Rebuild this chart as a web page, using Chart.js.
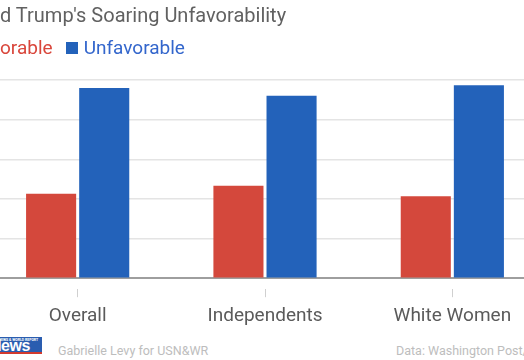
<!DOCTYPE html>
<html>
<head>
<meta charset="utf-8">
<script src="https://cdn.jsdelivr.net/npm/chart.js@4/dist/chart.umd.min.js"></script>
<style>
  html, body { margin:0; padding:0; background:#fff; }
  #wrap { position:relative; width:524px; height:360px; overflow:hidden; font-family: Roboto, "Noto Sans", sans-serif; }
  #chart { position:absolute; left:-16px; top:0; }
  #title { position:absolute; top:4px; left:-52px; font-size:20px; line-height:22px; color:#616161; white-space:nowrap; }
  #legend { position:absolute; top:37px; left:-55px; font-size:19px; line-height:22px; white-space:nowrap; }
  .item { display:inline-block; margin-right:13px; }
  .sw { display:inline-block; width:12px; height:12px; margin-right:6px; vertical-align:0px; }
  #logo { position:absolute; left:0; top:337px; width:42px; height:18px; overflow:hidden; }
  #logo .box { position:absolute; left:0; top:0; width:42px; height:15px; background:#2a5db0; }
  #logo .small { position:absolute; left:-8px; top:1px; font-size:3.5px; line-height:4px; color:#fff; font-weight:bold; white-space:nowrap; }
  #logo .big { position:absolute; left:-10px; top:3px; font-size:16px; line-height:12px; color:#fff; font-weight:bold; font-family:"Liberation Sans", Arial, sans-serif; letter-spacing:-0.5px; white-space:nowrap; }
  #logo .stripe { position:absolute; left:0; top:15px; width:42px; height:2px; background:#d23a2e; }
  #credit { position:absolute; left:58px; top:344px; font-size:12.5px; line-height:14px; color:#bdbdbd; white-space:nowrap; }
  #source { position:absolute; left:396px; top:344px; font-size:12.5px; line-height:14px; color:#bdbdbd; white-space:nowrap; }
</style>
</head>
<body>
<div id="wrap">
  <canvas id="chart" width="562" height="336"></canvas>
  <div id="title">Donald Trump's Soaring Unfavorability</div>
  <div id="legend"></div>
  <div id="logo">
    <div class="box"></div>
    <div class="small">U.S.NEWS &amp; WORLD REPORT</div>
    <div class="big">News</div>
    <div class="stripe"></div>
  </div>
  <div id="credit">Gabrielle Levy for USN&amp;WR</div>
  <div id="source">Data: Washington Post/ABC News</div>
</div>
<script>
const categories = ["Overall", "Independents", "White Women"];
const seriesNames = ["Favorable", "Unfavorable"];
const favorable = [32, 35, 31];
const unfavorable = [72, 69, 73];
const yTicks = [0, 15, 30, 45, 60, 75];

const colors = ["#d4483c", "#2362ba"];
const textColors = ["#d9463b", "#3366cc"];

// legend
const legend = document.getElementById('legend');
let firstLabelNode = null;
seriesNames.forEach((name, i) => {
  const it = document.createElement('span');
  it.className = 'item';
  const sw = document.createElement('span');
  sw.className = 'sw';
  sw.style.background = colors[i];
  const lb = document.createElement('span');
  lb.textContent = name;
  lb.style.color = textColors[i];
  if (i === 0) firstLabelNode = lb.firstChild;
  it.appendChild(sw); it.appendChild(lb);
  legend.appendChild(it);
});

// align cropped text so that the given character starts at the left edge of the frame
function alignChar(el, node, idx, target) {
  const r = document.createRange();
  r.setStart(node, idx); r.setEnd(node, idx + 1);
  const x = r.getBoundingClientRect().left;
  el.style.left = (parseFloat(getComputedStyle(el).left) + (target - x)) + 'px';
}
alignChar(document.getElementById('title'), document.getElementById('title').firstChild, 5, 0);
alignChar(legend, firstLabelNode, 3, 0);

new Chart(document.getElementById('chart'), {
  type: 'bar',
  data: {
    labels: categories,
    datasets: [
      { label: seriesNames[0], data: favorable, backgroundColor: colors[0] },
      { label: seriesNames[1], data: unfavorable, backgroundColor: colors[1] }
    ]
  },
  options: {
    responsive: false,
    animation: false,
    devicePixelRatio: 1,
    categoryPercentage: 0.567,
    barPercentage: 0.943,
    layout: { padding: { top: 80, left: 0, right: 0, bottom: 0 } },
    plugins: { legend: { display: false }, title: { display: false }, tooltip: { enabled: false } },
    scales: {
      x: {
        grid: { offset: false, drawOnChartArea: false, tickLength: 19, tickColor: '#d0d0d0', tickWidth: 1, tickBorderDash: [0, 10, 9, 100] },
        border: { display: true, color: '#9e9e9e', width: 2 },
        ticks: { font: { family: 'Roboto', size: 19 }, color: '#5a5a5a', padding: 8 }
      },
      y: {
        min: yTicks[0], max: yTicks[yTicks.length - 1],
        afterBuildTicks: (s) => { s.ticks = yTicks.map(v => ({ value: v })); },
        ticks: { display: false },
        grid: { color: '#e4e4e4', lineWidth: 1.5, drawTicks: false },
        border: { display: false }
      }
    }
  }
});
</script>
</body>
</html>
